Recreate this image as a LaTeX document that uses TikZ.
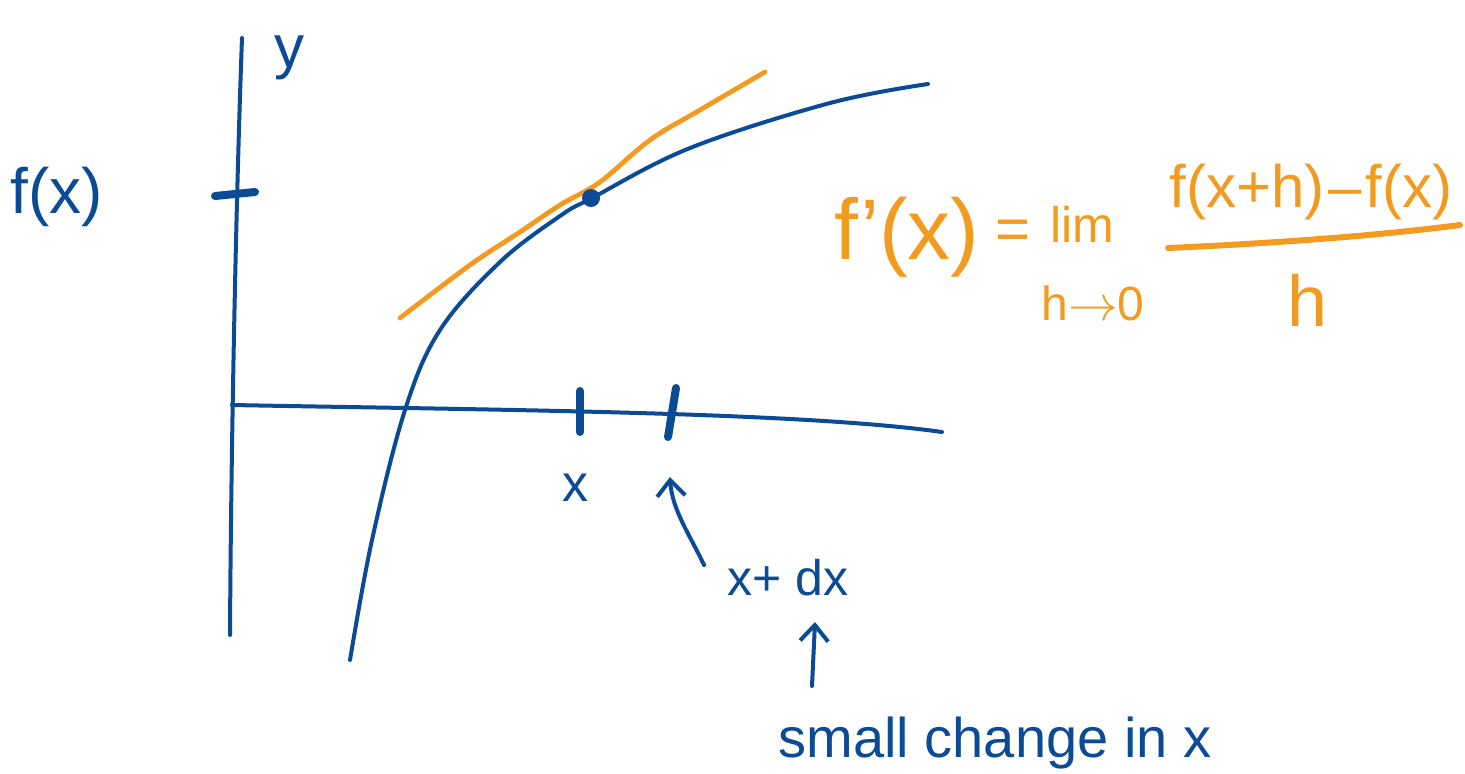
\documentclass[tikz,border=0pt]{standalone}
\usepackage{fontspec}
\setmainfont{Liberation Sans}
\usetikzlibrary{positioning,arrows.meta}
\definecolor{inkblue}{HTML}{0B4A94}
\definecolor{inkorange}{HTML}{F39A21}

\begin{document}
\begin{tikzpicture}[
        x=0.5pt, y=-0.5pt,
        ax/.style={inkblue, line width=2pt, line cap=round},
        tickmark/.style={inkblue, line width=4pt, line cap=round},
        crv/.style={inkblue, line width=2pt, line cap=round},
        tang/.style={inkorange, line width=2.4pt, line cap=round},
        lbl/.style={text=inkblue, inner sep=0pt,
                    font=\fontsize{26}{30}\selectfont},
        flbl/.style={text=inkorange, inner sep=0pt,
                     font=\fontsize{30}{34}\selectfont},
        ar/.style={inkblue, line width=2pt, line cap=round,
                   -{Straight Barb[length=8pt, width=14pt]}}
    ]
    \useasboundingbox (0,0) rectangle (1465,773);

    %% ---- axes ----
    \coordinate (ytop) at (242,38);
    \coordinate (ybot) at (230,635);
    \coordinate (xl) at (232,405);
    \coordinate (xr) at (942,432);
    \draw[ax] (ytop) .. controls (236,200) and (231,450) .. (ybot);
    \draw[ax] (xl) .. controls (500,410) and (800,412) .. (xr);
    \node[lbl, font=\fontsize{30}{34}\selectfont] (ylab) at (289,58) {y};

    %% ---- f(x) mark on the y axis ----
    \draw[tickmark] (215,196) -- (255,192);
    \node[lbl, font=\fontsize{32}{36}\selectfont] (fxlab) at (57,197) {f(x)};

    %% ---- marks for x and x+dx ----
    \coordinate (ta) at (580,391);
    \coordinate (tb) at (580,432);
    \coordinate (tc) at (676,388);
    \coordinate (td) at (668,437);
    \draw[tickmark] (ta) -- (tb);
    \draw[tickmark] (tc) -- (td);
    \node[lbl] (xlab) at (575,488) {x};

    %% ---- the function and its tangent ----
    \draw[crv] plot[smooth, tension=0.6] coordinates {
        (350,660) (372,540) (405,410) (440,330) (500,262)
        (560,216) (592,198) (690,148) (830,103) (928,84)};
    \draw[tang] plot[smooth, tension=0.6] coordinates {
        (400,318) (470,265) (520,232) (560,205) (600,182)
        (650,140) (700,110) (765,72)};
    \fill[inkblue] (591,198) circle (9);

    %% ---- x+dx label and arrows ----
    \node[lbl, font=\fontsize{25}{29}\selectfont] (xdx) at (788,578) {x+ dx};
    \coordinate (xdxtail) at (704,565);
    \coordinate (xdxhead) at (670,477);
    \draw[ar] (xdxtail) .. controls (690,535) and (672,510) .. (xdxhead);

    \node[lbl, font=\fontsize{28}{32}\selectfont] (small) at (995,743) {small change in x};
    \coordinate (smtail) at (812,686);
    \coordinate (smhead) at (815,622);
    \draw[ar] (smtail) -- (smhead);

    %% ---- definition of the derivative ----
    \node[flbl, font=\fontsize{43}{47}\selectfont] (fprime) at (907,237) {f\kern1pt'(x)};
    \node[flbl, font=\fontsize{30}{34}\selectfont] (eq) at (1013,235) {=};
    \node[flbl, font=\fontsize{25}{29}\selectfont] (lim) at (1082,224) {lim};
    \node[flbl, font=\fontsize{24}{28}\selectfont] (lto) at (1093,303) {h$\to$0};
    \node[flbl] (num) at (1311,192) {f(x+h)\kern2pt–\kern2pt f(x)};
    \coordinate (barl) at (1168,248);
    \coordinate (barr) at (1460,225);
    \draw[tang, line width=3pt] (barl) .. controls (1300,242) and (1390,234) .. (barr);
    \node[flbl, font=\fontsize{36}{40}\selectfont] (den) at (1307,300) {h};
\end{tikzpicture}
\end{document}
